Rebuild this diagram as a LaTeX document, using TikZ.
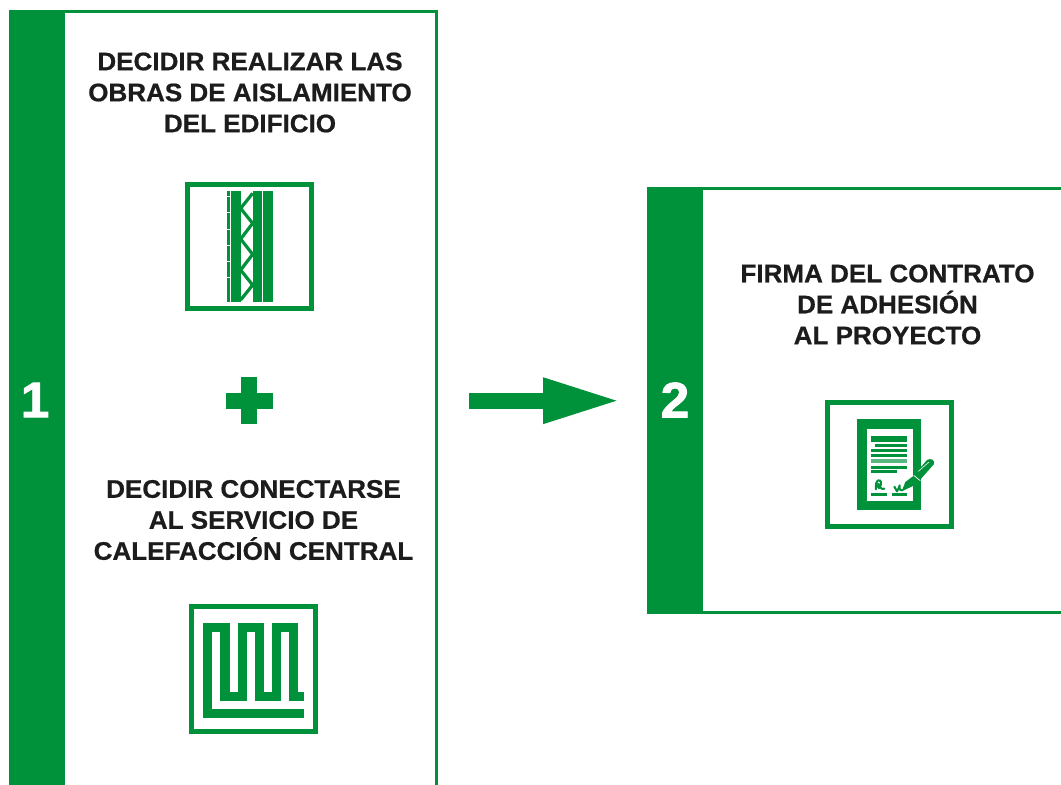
\documentclass[tikz,border=0pt]{standalone}
\usepackage{fontspec}
\setmainfont{Liberation Sans}[BoldFeatures={FakeBold=0.7,FakeStretch=1.025}]
\newfontfamily\numfont{Liberation Sans}[BoldFeatures={FakeBold=1.6,FakeStretch=1.03}]
\usetikzlibrary{calc}
\definecolor{eco}{RGB}{0,146,58}
\definecolor{ink}{RGB}{28,28,28}
\tikzset{
  x=1pt,y=-1pt,
  panelframe/.style={draw=eco,line width=3pt,fill=white},
  sidebar/.style={fill=eco},
  stepnum/.style={text=white,font=\fontsize{50}{50}\numfont\bfseries\selectfont,inner sep=0pt},
  caption/.style={text=ink,align=center,inner sep=0pt,font=\fontsize{25.4}{31}\bfseries\selectfont},
  iconframe/.style={draw=eco,line width=5pt,fill=white},
  flowshaft/.style={draw=eco,line width=16pt},
  inkfill/.style={fill=eco},
  zz/.style={draw=eco,line width=3.2pt},
  serp/.style={draw=eco,line width=9.3pt,miter limit=10},
  sig/.style={draw=eco,line width=2pt,line cap=round,line join=round},
}
\begin{document}
\begin{tikzpicture}
\useasboundingbox (0,0) rectangle (1061,785);
% panel 1
\draw[panelframe] (11,11.5) rectangle (436,800);
\fill[sidebar] (9,10) rectangle (65,800);
\node[stepnum] (n1) at (35,400) {1};
\node[caption] (t1) at (250,92.5) {DECIDIR REALIZAR LAS\\OBRAS DE AISLAMIENTO\\DEL EDIFICIO};
\node[caption] (t2) at (253.5,520) {DECIDIR CONECTARSE\\AL SERVICIO DE\\CALEFACCIÓN CENTRAL};
% panel 2
\draw[panelframe] (649,188.5) rectangle (1080,612.5);
\fill[sidebar] (647,187) rectangle (703,614);
\node[stepnum] (n2) at (675,400) {2};
\node[caption] (t3) at (887.5,304.5) {FIRMA DEL CONTRATO\\DE ADHESIÓN\\AL PROYECTO};
% plus
\fill[inkfill] (241.3,377.3) rectangle (257.3,424);
\fill[inkfill] (226,392.7) rectangle (272.7,408.7);
% arrow
\coordinate (arrowfrom) at (469,400.7);
\coordinate (arrowneck) at (543,400.7);
\coordinate (arrowto) at (616.5,400.7);
\draw[flowshaft] (arrowfrom) -- (arrowneck);
\fill[inkfill] (arrowto) -- ($(arrowneck)+(0,-23.5)$) -- ($(arrowneck)+(0,23.5)$) -- cycle;
% icon wall
\draw[iconframe] (187.8,184.5) rectangle (311.8,308.5);
\begin{scope}[shift={(170,170)},x=0.3333pt,y=-0.3333pt]
  \fill[inkfill] (184,64) rectangle (212,395);
  \fill[inkfill] (248,64) rectangle (276,395);
  \fill[inkfill] (280,64) rectangle (308,395);
  \foreach \ya/\yb in {64/78,82/126,129/177,180/225,228/272,275/321,324/395}
    \fill[inkfill] (172,\ya) rectangle (181,\yb);
  \draw[zz] (248,70) -- (212,115) -- (248,160) -- (212,207) -- (248,253) -- (212,300) -- (248,345) -- (212,390);
\end{scope}
% icon heating
\draw[iconframe] (191.2,606.8) rectangle (315.5,731.2);
\begin{scope}[shift={(175,595)},x=0.3333pt,y=-0.3333pt]
  \draw[serp] (386,356) -- (98,356) -- (98,98) -- (150,98) -- (150,305) -- (203,305) -- (203,98) -- (253,98) -- (253,305) -- (305,305) -- (305,98) -- (355,98) -- (355,305) -- (386,305);
\end{scope}
% icon contract
\draw[iconframe] (827.2,402.2) rectangle (951.2,526.5);
\begin{scope}[shift={(815,390)},x=0.3333pt,y=-0.3333pt]
  \fill[inkfill] (126,87) rectangle (319,361);
  \fill[white] (155,116) rectangle (293,332);
  \fill[inkfill] (169,138) rectangle (276,155);
  \fill[inkfill] (181,163) rectangle (276,172);
  \fill[inkfill] (169,178) rectangle (276,187);
  \fill[inkfill] (169,191) rectangle (276,200);
  \fill[eco!65] (169,208) rectangle (276,220);
  \fill[inkfill] (169,228) rectangle (276,236);
  \fill[inkfill] (169,240) rectangle (245,248);
  \fill[inkfill] (169,310) rectangle (215,317);
  \fill[inkfill] (231,310) rectangle (276,317);
\end{scope}
\begin{scope}[shift={(865,450)},x=0.3333pt,y=-0.3333pt]
  % signatures
  \draw[sig] (33,118) .. controls (28,88) and (50,82) .. (48,102) .. controls (46,118) and (36,118) .. (40,102) .. controls (45,110) and (48,120) .. (58,116);
  \draw[sig] (88,110) .. controls (92,112) and (92,122) .. (96,124) .. controls (100,120) and (101,112) .. (104,106) .. controls (103,115) and (104,124) .. (113,120);
  % pen
  \fill[inkfill] (110,124) -- (121,96) -- (145,78) -- (186,30) .. controls (196,24) and (210,28) .. (207,42) -- (165,90) -- (144,108) -- cycle;
  \draw[draw=white,line width=0.7pt] (146,76) -- (166,92);
  \draw[draw=white,line width=0.6pt] (160,64) -- (192,36);
\end{scope}
\end{tikzpicture}
\end{document}
